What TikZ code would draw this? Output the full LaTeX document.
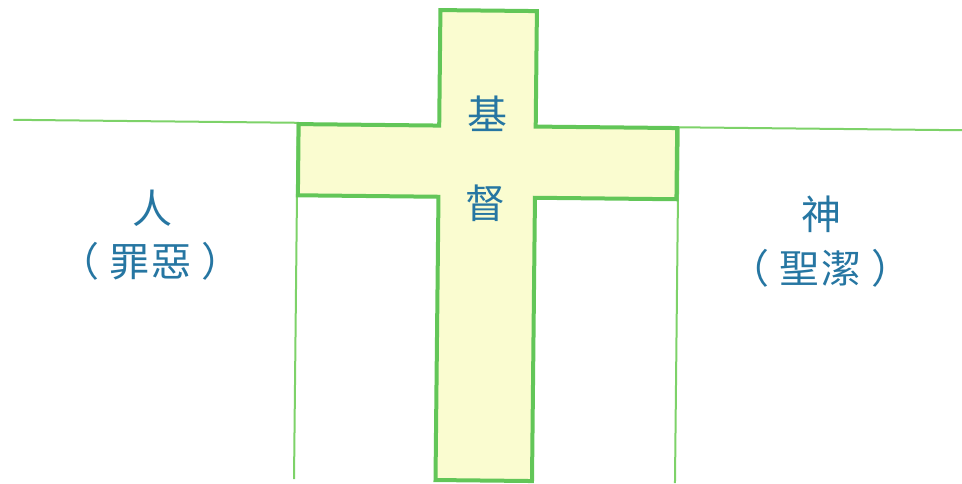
\documentclass[tikz,border=0pt]{standalone}
\usepackage{fontspec}
\newfontfamily\cjk{Noto Sans CJK TC}
\definecolor{crossline}{RGB}{98,198,88}
\definecolor{cliffline}{RGB}{125,210,105}
\definecolor{crossfill}{RGB}{250,252,208}
\definecolor{txt}{RGB}{38,118,162}
\begin{document}
\begin{tikzpicture}[x=1pt,y=-1pt,
  cjktext/.style={text=txt,font=\cjk\fontsize{40}{48}\selectfont,inner sep=0pt},
  cliff/.style={draw=cliffline,line width=2pt},
  crossshape/.style={draw=crossline,line width=4pt,fill=crossfill,line join=miter}]
\useasboundingbox (0,0) rectangle (962,483);
\begin{scope}[rotate around={-0.6:(481,241.5)}]
\path[cliff] (12,124.7) -- (296.5,124.7) -- (296.5,481);
\path[cliff] (962,125.2) -- (677.5,125.2) -- (677.5,481);
\path[crossshape] (438,10.5) -- (534.5,10.5) -- (534.5,126) -- (676,126) -- (676,197.2)
  -- (534.5,197.2) -- (534.5,480.5) -- (438,480.5) -- (438,197.2) -- (297.4,197.2)
  -- (297.4,126) -- (438,126) -- cycle;
\node[cjktext] (ji) at (486,113.3) {基};
\node[cjktext] (du) at (485.5,203.3) {督};
\node[cjktext] (ren) at (152.5,212) {人};
\node[cjktext] (zuie) at (151,264.5) {（\hspace{10pt}罪\hspace{2pt}惡\hspace{10pt}）};
\node[cjktext] (shen) at (821.5,211) {神};
\node[cjktext] (shengjie) at (821,264.5) {（\hspace{10pt}聖\hspace{2pt}潔\hspace{10pt}）};
\end{scope}
\end{tikzpicture}
\end{document}
